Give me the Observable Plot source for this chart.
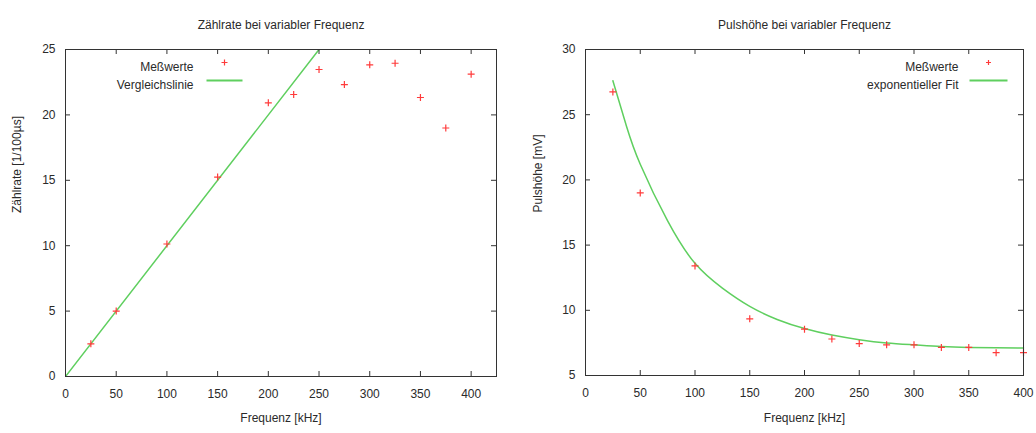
<!DOCTYPE html>
<html>
<head>
<meta charset="utf-8">
<script src="https://cdn.jsdelivr.net/npm/d3@7"></script>
<script src="https://cdn.jsdelivr.net/npm/@observablehq/plot@0.6"></script>
<style>
  html, body { margin: 0; padding: 0; background: #fff; }
  #wrap { display: flex; width: 1036px; height: 433px; }
  svg { font-family: "Liberation Sans", Arial, sans-serif; }
</style>
</head>
<body>
<div id="wrap"></div>
<script>
// ---- data ----
const freq = [25, 50, 100, 150, 200, 225, 250, 275, 300, 325, 350, 375, 400];
const zaehlrate = [2.5, 5.0, 10.13, 15.25, 20.92, 21.56, 23.47, 22.32, 23.83, 23.95, 21.33, 19.0, 23.11];
const pulshoehe = [26.75, 19.0, 13.4, 9.35, 8.55, 7.8, 7.45, 7.35, 7.35, 7.15, 7.15, 6.75, 6.75];
const vergleichX = [0, 250];
const vergleichY = [0, 25];
const fitX = [25, 37.5, 50, 75, 100, 125, 150, 175, 200, 225, 250, 275, 300, 325, 350, 375, 400];
const fitY = [27.6, 24.1, 21.2, 16.85, 13.6, 11.7, 10.3, 9.3, 8.6, 8.1, 7.75, 7.5, 7.35, 7.22, 7.15, 7.12, 7.1];
const xTicksL = [0, 50, 100, 150, 200, 250, 300, 350, 400];
const yTicksL = [0, 5, 10, 15, 20, 25];
const xTicksR = [0, 50, 100, 150, 200, 250, 300, 350, 400];
const yTicksR = [5, 10, 15, 20, 25, 30];

const RED = "#ff3b3b";
const GREEN = "#5fcf5f";
const TXT = "#2a2a2a";

const plusSym = (h) => ({draw(ctx) { ctx.moveTo(-h, 0); ctx.lineTo(h, 0); ctx.moveTo(0, -h); ctx.lineTo(0, h); }});
const dashSym = (h) => ({draw(ctx) { ctx.moveTo(-h, 0); ctx.lineTo(h, 0); }});

function frameTicks(xT, yT, innerH, innerW) {
  const L = 5;
  return [
    Plot.tickX(xT, {x: d => d, insetTop: innerH - L, stroke: "#333"}),
    Plot.tickX(xT, {x: d => d, insetBottom: innerH - L, stroke: "#333"}),
    Plot.tickY(yT, {y: d => d, insetRight: innerW - L, stroke: "#333"}),
    Plot.tickY(yT, {y: d => d, insetLeft: innerW - L, stroke: "#333"})
  ];
}

// ---- left chart ----
{
  const W = 518, H = 433, mL = 65, mR = 22, mT = 49, mB = 57;
  const iw = W - mL - mR, ih = H - mT - mB;
  const pts = freq.map((f, i) => ({f, v: zaehlrate[i]}));
  const lin = vergleichX.map((x, i) => ({x, y: vergleichY[i]}));
  const chart = Plot.plot({
    width: W, height: H,
    marginLeft: mL, marginRight: mR, marginTop: mT, marginBottom: mB,
    style: {fontSize: "12px", color: TXT, background: "#fff"},
    x: {domain: [0, 425]},
    y: {domain: [0, 25]},
    marks: [
      Plot.line(lin, {x: "x", y: "y", stroke: GREEN, strokeWidth: 1.5, clip: true}),
      Plot.dot(pts, {x: "f", y: "v", symbol: plusSym(3.5), stroke: RED, strokeWidth: 1.2}),
      ...frameTicks(xTicksL, yTicksL, ih, iw),
      Plot.frame({stroke: "#333", strokeWidth: 1}),
      Plot.axisX({ticks: xTicksL, tickSize: 0, tickPadding: 13, fill: TXT, label: null}),
      Plot.axisY({ticks: yTicksL, tickSize: 0, tickPadding: 10, fill: TXT, label: null}),
      Plot.text(["Zählrate bei variabler Frequenz"], {frameAnchor: "top", dy: -29, fill: TXT}),
      Plot.text(["Frequenz [kHz]"], {frameAnchor: "bottom", dy: 45, fill: TXT}),
      Plot.text(["Zählrate [1/100µs]"], {frameAnchor: "left", rotate: -90, dx: -48, fill: TXT}),
      Plot.text(["Meßwerte"], {frameAnchor: "top-left", dx: 128, dy: 13, textAnchor: "end", fill: TXT}),
      Plot.text(["Vergleichslinie"], {frameAnchor: "top-left", dx: 128, dy: 31, textAnchor: "end", fill: TXT}),
      Plot.dot([0], {frameAnchor: "top-left", dx: 159, dy: 13, symbol: plusSym(3), stroke: RED, strokeWidth: 1.2}),
      Plot.dot([0], {frameAnchor: "top-left", dx: 159, dy: 31, symbol: dashSym(18), stroke: GREEN, strokeWidth: 1.8})
    ]
  });
  document.getElementById("wrap").append(chart);
}

// ---- right chart ----
{
  const W = 518, H = 433, mL = 67, mR = 13, mT = 49, mB = 58;
  const iw = W - mL - mR, ih = H - mT - mB;
  const pts = freq.map((f, i) => ({f, v: pulshoehe[i]}));
  const fit = fitX.map((x, i) => ({x, y: fitY[i]}));
  const chart = Plot.plot({
    width: W, height: H,
    marginLeft: mL, marginRight: mR, marginTop: mT, marginBottom: mB,
    style: {fontSize: "12px", color: TXT, background: "#fff"},
    x: {domain: [0, 400]},
    y: {domain: [5, 30]},
    marks: [
      Plot.line(fit, {x: "x", y: "y", stroke: GREEN, strokeWidth: 1.5, curve: "natural"}),
      Plot.dot(pts, {x: "f", y: "v", symbol: plusSym(3.5), stroke: RED, strokeWidth: 1.2}),
      ...frameTicks(xTicksR, yTicksR, ih, iw),
      Plot.frame({stroke: "#333", strokeWidth: 1}),
      Plot.axisX({ticks: xTicksR, tickSize: 0, tickPadding: 13, fill: TXT, label: null}),
      Plot.axisY({ticks: yTicksR, tickSize: 0, tickPadding: 10, fill: TXT, label: null}),
      Plot.text(["Pulshöhe bei variabler Frequenz"], {frameAnchor: "top", dy: -29, fill: TXT}),
      Plot.text(["Frequenz [kHz]"], {frameAnchor: "bottom", dy: 46, fill: TXT}),
      Plot.text(["Pulshöhe [mV]"], {frameAnchor: "left", rotate: -90, dx: -47, fill: TXT}),
      Plot.text(["Meßwerte"], {frameAnchor: "top-right", dx: -65, dy: 13, textAnchor: "end", fill: TXT}),
      Plot.text(["exponentieller Fit"], {frameAnchor: "top-right", dx: -65, dy: 31, textAnchor: "end", fill: TXT}),
      Plot.dot([0], {frameAnchor: "top-right", dx: -35, dy: 13, symbol: plusSym(2.5), stroke: RED, strokeWidth: 1.2}),
      Plot.dot([0], {frameAnchor: "top-right", dx: -35, dy: 31, symbol: dashSym(19), stroke: GREEN, strokeWidth: 1.8})
    ]
  });
  document.getElementById("wrap").append(chart);
}
</script>
</body>
</html>
